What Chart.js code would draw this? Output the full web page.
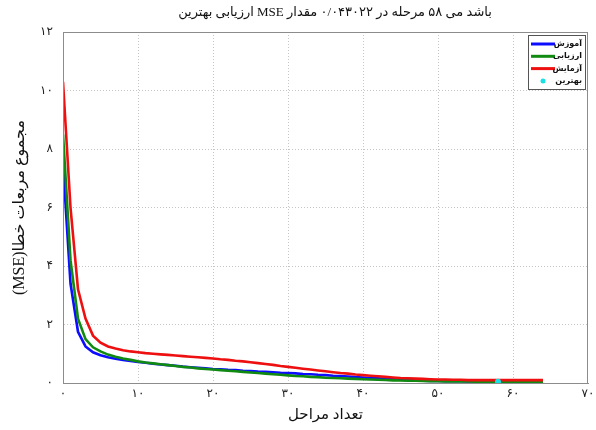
<!DOCTYPE html>
<html>
<head>
<meta charset="utf-8">
<script src="https://cdn.jsdelivr.net/npm/chart.js@4/dist/chart.umd.min.js"></script>
<style>
  html, body { margin: 0; padding: 0; background: #fff; }
  #wrap { width: 596px; height: 430px; }
</style>
</head>
<body>
<div id="wrap"><canvas id="mseChart" width="596" height="430"></canvas></div>
<script>
// epochs 0..64, MSE per epoch
const epochs = Array.from({length: 65}, (_, i) => i);

const trainMSE = [
  7.5, 3.4, 1.75, 1.25, 1.05, 0.95, 0.88, 0.83, 0.79, 0.75, 0.72,
  0.69, 0.66, 0.63, 0.61, 0.59, 0.56, 0.54, 0.52, 0.50, 0.48,
  0.47, 0.45, 0.44, 0.42, 0.41, 0.39, 0.38, 0.37, 0.35, 0.34,
  0.33, 0.31, 0.30, 0.28, 0.27, 0.25, 0.24, 0.22, 0.20, 0.19,
  0.17, 0.16, 0.14, 0.13, 0.11, 0.10, 0.09, 0.08, 0.07, 0.07,
  0.06, 0.06, 0.06, 0.05, 0.05, 0.05, 0.05, 0.05, 0.05, 0.05,
  0.05, 0.05, 0.05, 0.05
];

const validMSE = [
  8.5, 4.2, 2.2, 1.5, 1.22, 1.08, 0.97, 0.90, 0.84, 0.79, 0.74,
  0.70, 0.67, 0.64, 0.61, 0.58, 0.55, 0.53, 0.50, 0.48, 0.46,
  0.44, 0.42, 0.40, 0.38, 0.36, 0.34, 0.32, 0.30, 0.28, 0.26,
  0.24, 0.23, 0.21, 0.20, 0.18, 0.17, 0.16, 0.15, 0.14, 0.13,
  0.12, 0.11, 0.10, 0.09, 0.085, 0.08, 0.075, 0.07, 0.065, 0.06,
  0.057, 0.054, 0.051, 0.049, 0.047, 0.045, 0.044, 0.043, 0.043, 0.043,
  0.043, 0.043, 0.043, 0.043
];

const testMSE = [
  10.3, 6.0, 3.2, 2.2, 1.62, 1.38, 1.25, 1.18, 1.12, 1.08, 1.05,
  1.02, 1.00, 0.98, 0.96, 0.94, 0.92, 0.90, 0.88, 0.86, 0.84,
  0.81, 0.79, 0.76, 0.74, 0.71, 0.68, 0.65, 0.62, 0.58, 0.55,
  0.52, 0.49, 0.46, 0.43, 0.40, 0.37, 0.34, 0.32, 0.29, 0.27,
  0.25, 0.23, 0.21, 0.19, 0.17, 0.16, 0.15, 0.14, 0.13, 0.12,
  0.12, 0.11, 0.11, 0.10, 0.10, 0.10, 0.10, 0.10, 0.10, 0.10,
  0.10, 0.10, 0.10, 0.10
];

const bestEpoch = 58;
const bestValue = 0.043022;

const seriesNames = ['آموزش', 'ارزیابی', 'آزمایش', 'بهترین'];
const seriesColors = ['#0c0cff', '#118a11', '#ee1010', '#19e0e6'];

const xTickLabels = ['۰', '۱۰', '۲۰', '۳۰', '۴۰', '۵۰', '۶۰', '۷۰'];
const yTickLabels = ['۰', '۲', '۴', '۶', '۸', '۱۰', '۱۲'];

// words kept in the picture's left-to-right order
const titleWords = ['بهترین', 'ارزیابی', 'MSE', 'مقدار', '۰/۰۴۳۰۲۲', 'در', 'مرحله', '۵۸', 'می', 'باشد'];
const xTitle = 'تعداد مراحل';
const yTitle = 'مجموع مربعات خطا(MSE)';

const serif = '"Liberation Serif", "DejaVu Sans", serif';
const sans = '"DejaVu Sans", sans-serif';

function toPoints(vals){
  return vals.map((v, i) => ({x: epochs[i], y: v}));
}

// white background, frame, title and boxed legend
const framePlugin = {
  id: 'frame',
  beforeDraw(chart){
    const ctx = chart.ctx;
    ctx.save();
    ctx.fillStyle = '#fff';
    ctx.fillRect(0, 0, chart.width, chart.height);
    ctx.restore();
  },
  afterDraw(chart){
    const {ctx, chartArea: a} = chart;
    ctx.save();
    ctx.strokeStyle = '#8c8c8c';
    ctx.lineWidth = 1;
    ctx.strokeRect(a.left + 0.5, a.top + 0.5, a.right - a.left - 1, a.bottom - a.top);

    // title, word by word from left to right
    ctx.fillStyle = '#111';
    ctx.font = '13px ' + serif;
    ctx.textAlign = 'left';
    ctx.textBaseline = 'middle';
    const gap = ctx.measureText(' ').width;
    const widths = titleWords.map(w => ctx.measureText(w).width);
    const total = widths.reduce((s, w) => s + w, 0) + gap * (titleWords.length - 1);
    let tx = 335 - total / 2;
    titleWords.forEach((w, i) => {
      ctx.fillText(w, tx, 13);
      tx += widths[i] + gap;
    });

    // legend
    const bw = 57, bh = 54;
    const bx = a.right - bw - 3, by = a.top + 3;
    ctx.fillStyle = '#fff';
    ctx.fillRect(bx, by, bw, bh);
    ctx.strokeStyle = '#555';
    ctx.strokeRect(bx + 0.5, by + 0.5, bw, bh);
    ctx.font = 'bold 8px ' + sans;
    ctx.textAlign = 'right';
    chart.data.datasets.forEach((ds, i) => {
      const y = by + 9 + i * 12.3;
      if (ds.showLine === false) {
        ctx.fillStyle = ds.backgroundColor;
        ctx.beginPath();
        ctx.arc(bx + 15, y, 2.5, 0, Math.PI * 2);
        ctx.fill();
      } else {
        ctx.strokeStyle = ds.borderColor;
        ctx.lineWidth = 3;
        ctx.beginPath();
        ctx.moveTo(bx + 3, y);
        ctx.lineTo(bx + 27, y);
        ctx.stroke();
      }
      ctx.fillStyle = '#111';
      ctx.fillText(ds.label, bx + bw - 3, y);
    });
    ctx.restore();
  }
};

const lineStyle = {pointRadius: 0, borderWidth: 2.6, tension: 0, fill: false};

new Chart(document.getElementById('mseChart'), {
  type: 'line',
  data: {
    datasets: [
      {label: seriesNames[0], data: toPoints(trainMSE), borderColor: seriesColors[0], order: 3, ...lineStyle},
      {label: seriesNames[1], data: toPoints(validMSE), borderColor: seriesColors[1], order: 2, ...lineStyle},
      {label: seriesNames[2], data: toPoints(testMSE), borderColor: seriesColors[2], order: 1, ...lineStyle},
      {label: seriesNames[3], data: [{x: bestEpoch, y: bestValue}], showLine: false,
       pointRadius: 3, pointBorderWidth: 0, backgroundColor: seriesColors[3], borderColor: seriesColors[3], order: 0}
    ]
  },
  options: {
    responsive: false,
    animation: false,
    layout: {padding: {top: 32, right: 8, left: 0, bottom: 0}},
    plugins: {legend: {display: false}, title: {display: false}, tooltip: {enabled: false}},
    scales: {
      x: {
        type: 'linear', min: 0, max: 70,
        afterFit: s => { s.height = 47; s.paddingRight = 0; s.paddingLeft = 0; },
        ticks: {stepSize: 10, padding: 4, color: '#222', font: {family: sans, size: 12},
                callback: v => xTickLabels[v / 10]},
        grid: {drawTicks: false, color: c => (c.tick && (c.tick.value === 0 || c.tick.value === 70)) ? 'rgba(0,0,0,0)' : '#c6c6c6'},
        border: {display: true, color: '#8c8c8c', dash: [1, 2]},
        title: {display: true, text: xTitle, color: '#111', font: {family: serif, size: 15}, padding: {top: 0, bottom: 6}}
      },
      y: {
        min: 0, max: 12,
        afterFit: s => { s.width = 63; },
        ticks: {stepSize: 2, padding: 10, color: '#222', font: {family: sans, size: 12},
                callback: v => yTickLabels[v / 2]},
        grid: {drawTicks: false, color: c => (c.tick && (c.tick.value === 0 || c.tick.value === 12)) ? 'rgba(0,0,0,0)' : '#c6c6c6'},
        border: {display: true, color: '#8c8c8c', dash: [1, 2]},
        title: {display: true, text: '\u202B' + yTitle + '\u202C', color: '#111', font: {family: serif, size: 16}, padding: {top: 10, bottom: 0}}
      }
    }
  },
  plugins: [framePlugin]
});
</script>
</body>
</html>
